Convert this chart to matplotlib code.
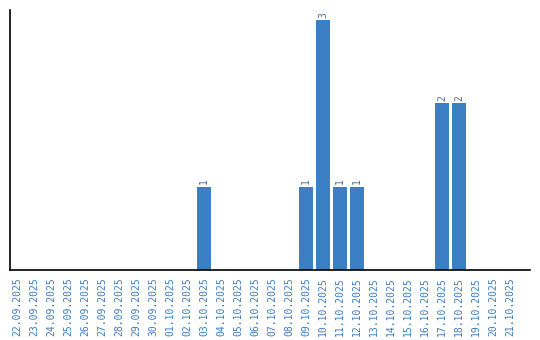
import matplotlib
matplotlib.use("Agg")
import matplotlib.pyplot as plt

dates = ["22.09.2025", "23.09.2025", "24.09.2025", "25.09.2025", "26.09.2025",
         "27.09.2025", "28.09.2025", "29.09.2025", "30.09.2025", "01.10.2025",
         "02.10.2025", "03.10.2025", "04.10.2025", "05.10.2025", "06.10.2025",
         "07.10.2025", "08.10.2025", "09.10.2025", "10.10.2025", "11.10.2025",
         "12.10.2025", "13.10.2025", "14.10.2025", "15.10.2025", "16.10.2025",
         "17.10.2025", "18.10.2025", "19.10.2025", "20.10.2025", "21.10.2025"]
counts = [0, 0, 0, 0, 0, 0, 0, 0, 0, 0,
          0, 1, 0, 0, 0, 0, 0, 1, 3, 1,
          1, 0, 0, 0, 0, 2, 2, 0, 0, 0]

fig = plt.figure(figsize=(5.4, 3.4), dpi=100)
ax = fig.add_axes([10/540, 70/340, 520/540, 260/340])

x = list(range(len(dates)))
bars = ax.bar(x, counts, width=0.82, color="#3b7fc4")
for xi, v in zip(x, counts):
    if v > 0:
        ax.text(xi, v + 0.03, str(v), rotation=90, ha="center", va="bottom",
                fontsize=7, family="DejaVu Sans Mono", color="#4f6d8c")

ax.set_xlim(-0.41, 30.18)
ax.set_ylim(0, 3.12)
ax.set_xticks(x)
ax.set_xticklabels(dates, rotation=90, family="DejaVu Sans Mono", fontsize=7,
                   color="#3a7cc1")
ax.tick_params(axis="x", length=0, pad=5)
ax.set_yticks([])
for s in ["top", "right"]:
    ax.spines[s].set_visible(False)
for s in ["left", "bottom"]:
    ax.spines[s].set_color("black")
    ax.spines[s].set_linewidth(1.2)

fig.savefig("out.png", dpi=100)
